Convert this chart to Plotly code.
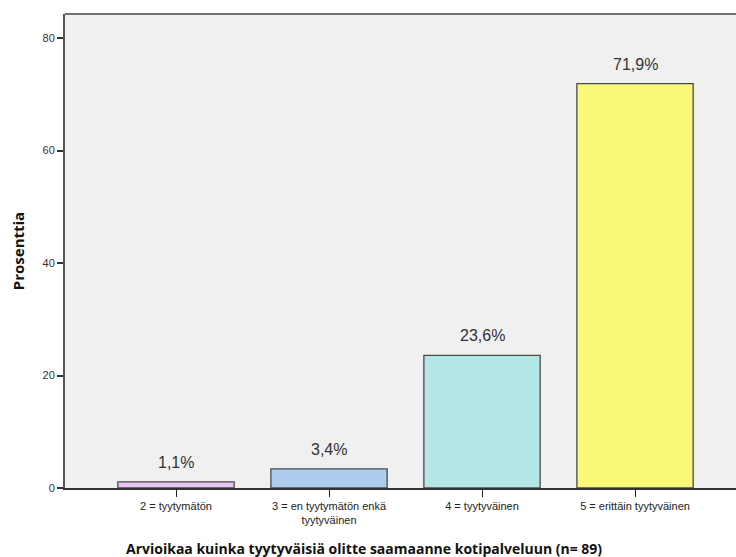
import plotly.graph_objects as go

# Survey results: satisfaction with home care service (n = 89)
categories = [
    "2 = tyytymätön",
    "3 = en tyytymätön enkä<br>tyytyväinen",
    "4 = tyytyväinen",
    "5 = erittäin tyytyväinen",
]
percentages = [1.1, 3.4, 23.6, 71.9]
bar_colors = ["#E6C3F2", "#ACCDEE", "#B4E6E6", "#FAF878"]
y_tick_values = [0, 20, 40, 60, 80]

positions = list(range(len(categories)))
value_labels = [f"{v:.1f}%".replace(".", ",") for v in percentages]

fig = go.Figure()
fig.add_trace(go.Bar(
    x=positions,
    y=percentages,
    width=0.76,
    marker=dict(color=bar_colors, line=dict(color="#4a4a4a", width=1.3)),
    hoverinfo="skip",
))

# value labels above each bar
annotations = [
    dict(
        x=p, y=v, xref="x", yref="y",
        text=t, showarrow=False,
        xanchor="center", yanchor="bottom", yshift=9,
        font=dict(family="Liberation Sans, Arial, sans-serif", size=16, color="#333333"),
    )
    for p, v, t in zip(positions, percentages, value_labels)
]
annotations.append(dict(
    text="<b>Arvioikaa kuinka tyytyväisiä olitte saamaanne kotipalveluun (n= 89)</b>",
    xref="paper", yref="paper",
    x=(364 - 65) / (736 - 65), y=-(548 - 488) / (488 - 14),
    xanchor="center", yanchor="middle",
    showarrow=False,
    font=dict(family="Open Sans, sans-serif", size=14, color="#111111"),
))

fig.update_layout(
    width=736,
    height=557,
    margin=dict(l=65, r=0, t=14, b=69),
    paper_bgcolor="white",
    plot_bgcolor="#F0F0F0",
    showlegend=False,
    font=dict(family="Liberation Sans, Arial, sans-serif", size=11, color="#222222"),
    annotations=annotations,
)

fig.update_xaxes(
    range=[-0.7255, 3.66],
    tickmode="array",
    tickvals=positions,
    ticktext=categories,
    ticks="outside",
    ticklen=7,
    tickwidth=1,
    tickcolor="#222222",
    showline=True,
    linecolor="#333333",
    linewidth=1.5,
    showgrid=False,
    zeroline=False,
    tickfont=dict(size=11),
    fixedrange=True,
)

fig.update_yaxes(
    range=[0, 84.3],
    tickvals=y_tick_values,
    ticks="outside",
    ticklen=6,
    tickwidth=1.5,
    tickcolor="#333333",
    showline=True,
    linecolor="#555555",
    linewidth=2,
    showgrid=False,
    zeroline=False,
    tickfont=dict(size=11, color="#333333"),
    title=dict(text="<b>Prosenttia</b>",
               font=dict(family="Open Sans, sans-serif", size=15, color="#111111"),
               standoff=14),
    fixedrange=True,
)

# top frame line of the plotting area
fig.add_shape(
    type="line", xref="paper", yref="paper",
    x0=0, x1=1, y0=1, y1=1,
    line=dict(color="#707070", width=2),
)

fig.write_html("out.html")
